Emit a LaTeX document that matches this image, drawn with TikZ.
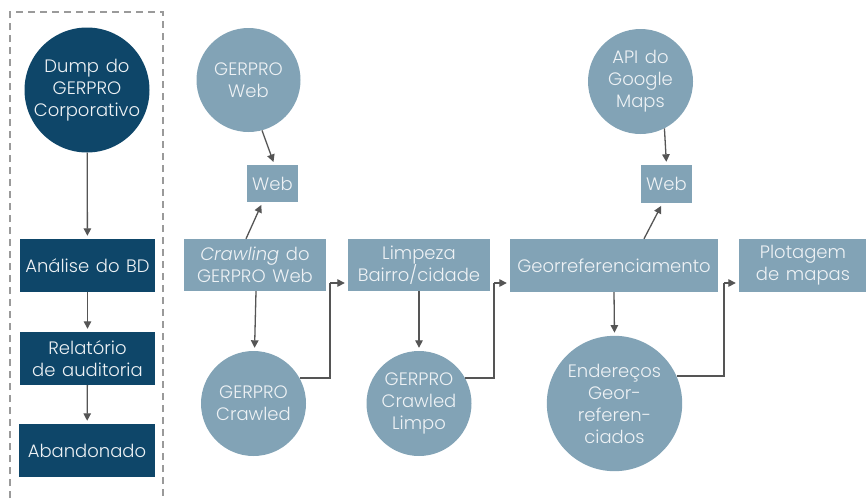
\documentclass[tikz,border=0pt]{standalone}
\usepackage{fontspec}
\usetikzlibrary{arrows.meta,positioning}
% Light geometric sans when available, otherwise Lato
\IfFontExistsTF{Poppins Light}{%
  \setmainfont{Poppins}[UprightFont=* Light, ItalicFont=* Light Italic, WordSpace=1.35]
  \newcommand\txtsize{\fontsize{18pt}{22pt}\selectfont}
}{%
  \setmainfont{Lato}
  \newcommand\txtsize{\fontsize{19pt}{22pt}\selectfont}
}
\definecolor{navy}{HTML}{0E4669}
\definecolor{steel}{HTML}{82A3B6}
\definecolor{ink}{HTML}{EEF2F5}
\definecolor{wire}{HTML}{555555}
\definecolor{frame}{HTML}{9A9A9A}
\tikzset{
  base/.style={inner sep=0pt, text=ink, align=center, font=\txtsize},
  darkcirc/.style={base, circle, fill=navy},
  darkbox/.style={base, rectangle, fill=navy},
  lightcirc/.style={base, circle, fill=steel},
  lightbox/.style={base, rectangle, fill=steel},
  arr/.style={draw=wire, line width=1.3pt, -{Triangle[length=7.5pt,width=7.5pt]}, shorten >=3pt},
  wire/.style={draw=wire, line width=1.3pt}
}
\begin{document}
\begin{tikzpicture}[x=1pt,y=-1pt]
\useasboundingbox (0,0) rectangle (866,498);

% dashed frame around the corporate branch
\draw[frame, dashed, dash pattern=on 7pt off 5pt, line width=1.2pt]
  (10,498) -- (10,12) -- (163,12) -- (163,498);

% corporate branch
\node[darkcirc, minimum size=125pt] (dump) at (87,90) {Dump do\\GERPRO\\Corporativo};
\node[darkbox, minimum width=135pt, minimum height=53pt] (anal) at (87.5,265.5) {Análise do BD};
\node[darkbox, minimum width=135pt, minimum height=53pt] (audit) at (87.5,358.5) {Relatório\\de auditoria};
\node[darkbox, minimum width=136pt, minimum height=53pt] (aband) at (87,450.5) {Abandonado};

\draw[arr] (dump) -- (anal);
\draw[arr] (anal) -- (audit);
\draw[arr] (audit) -- (aband);

% crawling branch
\node[lightcirc, minimum size=104pt] (gweb) at (248.5,80) {GERPRO\\Web};
\node[lightbox, minimum width=51pt, minimum height=37pt] (web1) at (272.5,183.5) {Web};
\node[lightbox, minimum width=142pt, minimum height=52pt] (crawl) at (255,265) {\textit{Crawling} do\\GERPRO Web};
\node[lightcirc, minimum size=105pt] (gcr) at (253.5,403.5) {GERPRO\\Crawled};

\node[lightbox, minimum width=142pt, minimum height=52pt] (limp) at (419,265) {Limpeza\\Bairro/cidade};
\node[lightcirc, minimum size=105pt] (gcl) at (419,403.5) {GERPRO\\Crawled\\Limpo};

% geocoding branch
\node[lightcirc, minimum size=105pt] (api) at (640.5,81.5) {API do\\Google\\Maps};
\node[lightbox, minimum width=51pt, minimum height=38pt] (web2) at (666.5,184) {Web};
\node[lightbox, minimum width=208pt, minimum height=53pt] (geo) at (614,265.5) {Georreferenciamento};
\node[lightcirc, minimum size=125pt] (ender) at (614.5,403.5) {\raisebox{-4pt}{\parbox{110pt}{\centering Endereços\\Geor-\\referen-\\ciados}}};
\node[lightbox, minimum width=128pt, minimum height=53pt] (plot) at (803,265.5) {Plotagem\\de mapas};

% connectors
\draw[arr] (gweb.-75) -- ([xshift=2pt]web1.north);
\draw[arr] ([xshift=-9pt]crawl.north) -- ([xshift=-10pt]web1.south);
\draw[arr] ([xshift=1pt]crawl.south) -- ([xshift=1pt]gcr.north);
\draw[arr] (limp.south) -- (gcl.north);
\draw[arr] (geo.south) -- (ender.north);
\draw[arr] (api.-63) -- (web2.north);
\draw[arr] ([xshift=30pt]geo.north) -- ([xshift=-4pt]web2.south);

\coordinate (k1) at (330,283);
\coordinate (k2) at (494,283);
\coordinate (k3) at (724,283);
\draw[wire] (gcr.29) -| (k1);
\draw[arr] (k1) -- (k1 -| limp.west);
\draw[wire] (gcl.29) -| (k2);
\draw[arr] (k2) -- (k2 -| geo.west);
\draw[wire] (ender.24) -| (k3);
\draw[arr] (k3) -- (k3 -| plot.west);
\end{tikzpicture}
\end{document}
